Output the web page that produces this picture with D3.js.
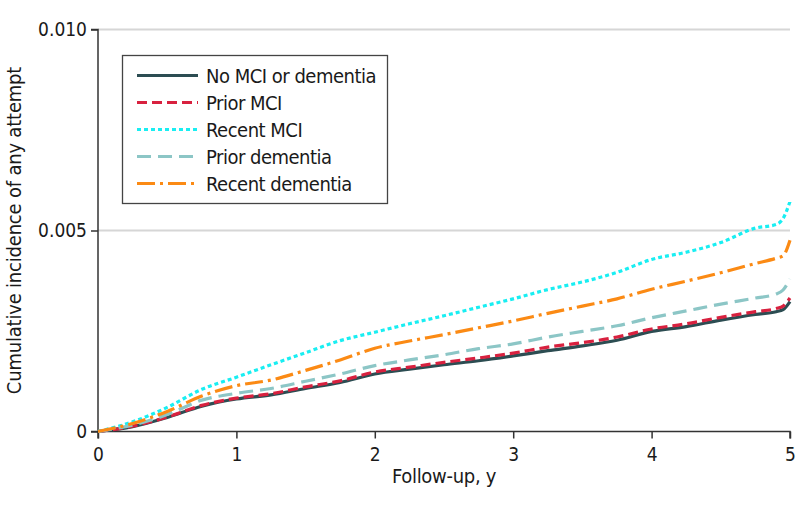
<!DOCTYPE html>
<html>
<head>
<meta charset="utf-8">
<script src="https://cdn.jsdelivr.net/npm/d3@7"></script>
<style>
  html, body { margin: 0; padding: 0; background: #fff; }
  svg { display: block; }
  text { font-family: "Liberation Sans Narrow", "DejaVu Sans Condensed", "Roboto Condensed", "Liberation Sans", sans-serif; fill: #1a1a1a; }
</style>
</head>
<body>
<svg id="chart" width="798" height="517"></svg>
<script>
// ---- data ----
const years = [0, 0.25, 0.5, 0.75, 1, 1.25, 1.5, 1.75, 2, 2.25, 2.5, 2.75, 3, 3.25, 3.5, 3.75, 4, 4.25, 4.5, 4.75, 4.9, 4.95, 5];
const noMciOrDementia = [0, 0.00012, 0.00035, 0.00063, 0.00081, 0.00091, 0.00107, 0.00122, 0.00143, 0.00155, 0.00166, 0.00176, 0.00188, 0.00201, 0.00213, 0.00227, 0.00249, 0.00261, 0.00277, 0.00291, 0.00298, 0.00303, 0.00323];
const priorMci = [0, 0.00013, 0.00036, 0.00065, 0.00083, 0.00094, 0.00111, 0.00126, 0.00148, 0.0016, 0.00172, 0.00183, 0.00195, 0.0021, 0.00221, 0.00235, 0.00255, 0.00268, 0.00284, 0.00298, 0.00306, 0.00312, 0.00332];
const recentMci = [0, 0.00024, 0.0006, 0.00105, 0.00135, 0.00166, 0.00196, 0.00226, 0.00247, 0.00268, 0.00288, 0.00309, 0.0033, 0.00353, 0.00372, 0.00396, 0.00428, 0.00446, 0.0047, 0.00506, 0.00515, 0.0053, 0.00572];
const priorDementia = [0, 0.00016, 0.00042, 0.00078, 0.00095, 0.00107, 0.00125, 0.00143, 0.00164, 0.00178, 0.00191, 0.00206, 0.00218, 0.00235, 0.00249, 0.00263, 0.00283, 0.003, 0.00317, 0.00332, 0.00342, 0.00352, 0.00379];
const recentDementia = [0, 0.0002, 0.0005, 0.00088, 0.00114, 0.00128, 0.00152, 0.00178, 0.00207, 0.00225, 0.00241, 0.00258, 0.00275, 0.00294, 0.00312, 0.0033, 0.00354, 0.00374, 0.00395, 0.00418, 0.00431, 0.00437, 0.00476];
const seriesNames = ["No MCI or dementia", "Prior MCI", "Recent MCI", "Prior dementia", "Recent dementia"];
const xTicks = [0, 1, 2, 3, 4, 5];
const yTicks = [0, 0.005, 0.010];
const yTickLabels = ["0", "0.005", "0.010"];
const xTitle = "Follow-up, y";
const yTitle = "Cumulative incidence of any attempt";

// ---- styles ----
const styles = [
  { color: "#2c4d52", dash: null },
  { color: "#d8213f", dash: "10,5" },
  { color: "#19eef2", dash: "4,3" },
  { color: "#8cc6c6", dash: "14,7" },
  { color: "#fb8a14", dash: "18,5,3,5" }
];
const allValues = [noMciOrDementia, priorMci, recentMci, priorDementia, recentDementia];

const svg = d3.select("#chart");
const margin = { left: 98, right: 8, top: 29.5, bottom: 85.5 };
const W = 798, H = 517;
const x = d3.scaleLinear().domain([0, 5]).range([margin.left, W - margin.right]);
const y = d3.scaleLinear().domain([0, 0.010]).range([H - margin.bottom, margin.top]);

// gridlines
svg.append("g").selectAll("line").data(yTicks.filter(d => d > 0)).join("line")
  .attr("x1", x(0)).attr("x2", x(5))
  .attr("y1", d => y(d)).attr("y2", d => y(d))
  .attr("stroke", "#d6d6d6").attr("stroke-width", 2);

// axes
const yAxis = d3.axisLeft(y).tickValues(yTicks).tickFormat((d, i) => yTickLabels[i]).tickSize(7).tickPadding(4);
const xAxis = d3.axisBottom(x).tickValues(xTicks).tickFormat(d3.format("d")).tickSize(7).tickPadding(9);

const gy = svg.append("g").attr("transform", `translate(${x(0)},0)`).call(yAxis);
const gx = svg.append("g").attr("transform", `translate(0,${y(0)})`).call(xAxis);
[gx, gy].forEach(g => {
  g.select(".domain").attr("stroke", "#333").attr("stroke-width", 1.5);
  g.selectAll(".tick line").attr("stroke", "#333").attr("stroke-width", 1.5);
  g.selectAll(".tick text").style("font-family", null).attr("font-size", 19).attr("fill", "#1a1a1a");
});
gy.select(".domain").attr("d", `M-7,${y(0.010)}H0V${y(0)}H-7`);
gx.select(".domain").attr("d", `M${x(0)},7V0H${x(5)}V7`);

// lines
const line = d3.line().x((d, i) => x(years[i])).y(d => y(d)).curve(d3.curveMonotoneX);
const linesG = svg.append("g");
allValues.forEach((vals, k) => {
  linesG.append("path")
    .attr("d", line(vals))
    .attr("fill", "none")
    .attr("stroke", styles[k].color)
    .attr("stroke-width", 3.2)
    .attr("stroke-dasharray", styles[k].dash);
});

// axis titles
svg.append("text").attr("x", (x(0) + x(5)) / 2).attr("y", 483)
  .attr("text-anchor", "middle").attr("font-size", 20).attr("letter-spacing", -0.3).text(xTitle);
svg.append("text").attr("transform", `translate(21,${(y(0) + y(0.010)) / 2}) rotate(-90)`)
  .attr("text-anchor", "middle").attr("font-size", 20).attr("letter-spacing", -0.2).text(yTitle);

// legend
const lg = svg.append("g");
lg.append("rect").attr("x", 122.5).attr("y", 55.5).attr("width", 265).attr("height", 148)
  .attr("fill", "#fff").attr("stroke", "#444").attr("stroke-width", 1.3);
seriesNames.forEach((name, k) => {
  const ly = 75.5 + k * 27;
  lg.append("line").attr("x1", 137).attr("x2", 198).attr("y1", ly).attr("y2", ly)
    .attr("stroke", styles[k].color).attr("stroke-width", 3)
    .attr("stroke-dasharray", styles[k].dash);
  lg.append("text").attr("x", 206).attr("y", ly).attr("dy", "0.35em")
    .attr("font-size", 20).attr("letter-spacing", -0.5).text(name);
});
</script>
</body>
</html>
